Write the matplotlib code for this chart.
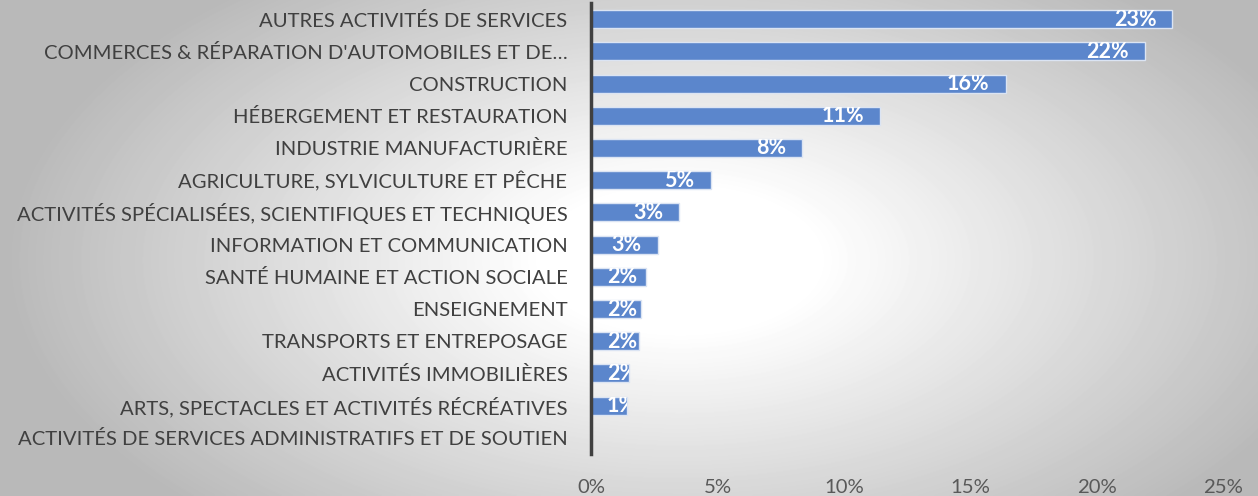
import numpy as np
import matplotlib
matplotlib.use('Agg')
import matplotlib.pyplot as plt
from matplotlib.ticker import FuncFormatter

categories = [
    "AUTRES ACTIVITÉS DE SERVICES",
    "COMMERCES & RÉPARATION D'AUTOMOBILES ET DE…",
    "CONSTRUCTION",
    "HÉBERGEMENT ET RESTAURATION",
    "INDUSTRIE MANUFACTURIÈRE",
    "AGRICULTURE, SYLVICULTURE ET PÊCHE",
    "ACTIVITÉS SPÉCIALISÉES, SCIENTIFIQUES ET TECHNIQUES",
    "INFORMATION ET COMMUNICATION",
    "SANTÉ HUMAINE ET ACTION SOCIALE",
    "ENSEIGNEMENT",
    "TRANSPORTS ET ENTREPOSAGE",
    "ACTIVITÉS IMMOBILIÈRES",
    "ARTS, SPECTACLES ET ACTIVITÉS RÉCRÉATIVES",
    "ACTIVITÉS DE SERVICES ADMINISTRATIFS ET DE SOUTIEN",
]
values = [23.0, 21.9, 16.4, 11.45, 8.35, 4.73, 3.48, 2.64, 2.18, 1.97, 1.89, 1.52, 1.42, 0.0]
xticks = [0, 5, 10, 15, 20, 25]

plt.rcParams['font.family'] = ['Lato', 'DejaVu Sans']

W, H = 1258, 496
fig = plt.figure(figsize=(W / 100, H / 100), dpi=100)

# radial grey-to-white background
bg = fig.add_axes([0, 0, 1, 1], zorder=-10)
yy, xx = np.mgrid[0:H, 0:W]
r = np.sqrt(((xx - 680) / 760.0) ** 2 + ((yy - 260) / 400.0) ** 2)
shade = 1 - 0.27 * np.clip((r - 0.18) / 0.7, 0, 1)
bg.imshow(shade, cmap='gray', vmin=0, vmax=1, aspect='auto', interpolation='bilinear')
bg.axis('off')

ax = fig.add_axes([591 / W, 1 - 454 / H, (1223 - 591) / W, 451 / H])
ax.patch.set_alpha(0)

y = np.arange(len(categories))
bars = ax.barh(y, values, height=0.56, color='#5b86cc', edgecolor='#dbe4f3', linewidth=1.0)
ax.set_xlim(0, 25)
ax.set_ylim(len(categories) - 0.5, -0.5)

ax.set_yticks(y)
ax.set_yticklabels(categories, fontsize=14.6, color='#404040')
ax.set_xticks(xticks)
ax.xaxis.set_major_formatter(FuncFormatter(lambda v, p: f"{v:.0f}%"))
ax.tick_params(axis='x', length=0, pad=18, labelsize=14.6, labelcolor='#595959')
ax.tick_params(axis='y', length=0, pad=17)

for s in ['top', 'right', 'bottom']:
    ax.spines[s].set_visible(False)
ax.spines['left'].set_color('#404040')
ax.spines['left'].set_linewidth(2.5)

# value labels, white bold inside the bar end, clipped to the bar
px = 25 / (1223 - 591)
for b, v in zip(bars, values):
    if v <= 0:
        continue
    x_end = v - 16 * px
    t = ax.text(x_end, b.get_y() + b.get_height() / 2, f"{v:.0f}%", ha='right', va='center',
                color='white', fontsize=15.5, fontweight='bold')
    if x_end < 46 * px:
        t.set_x(16 * px)
        t.set_ha('left')
    t.set_clip_on(True)
    t.set_clip_path(b)

fig.savefig('out.png', dpi=100)
